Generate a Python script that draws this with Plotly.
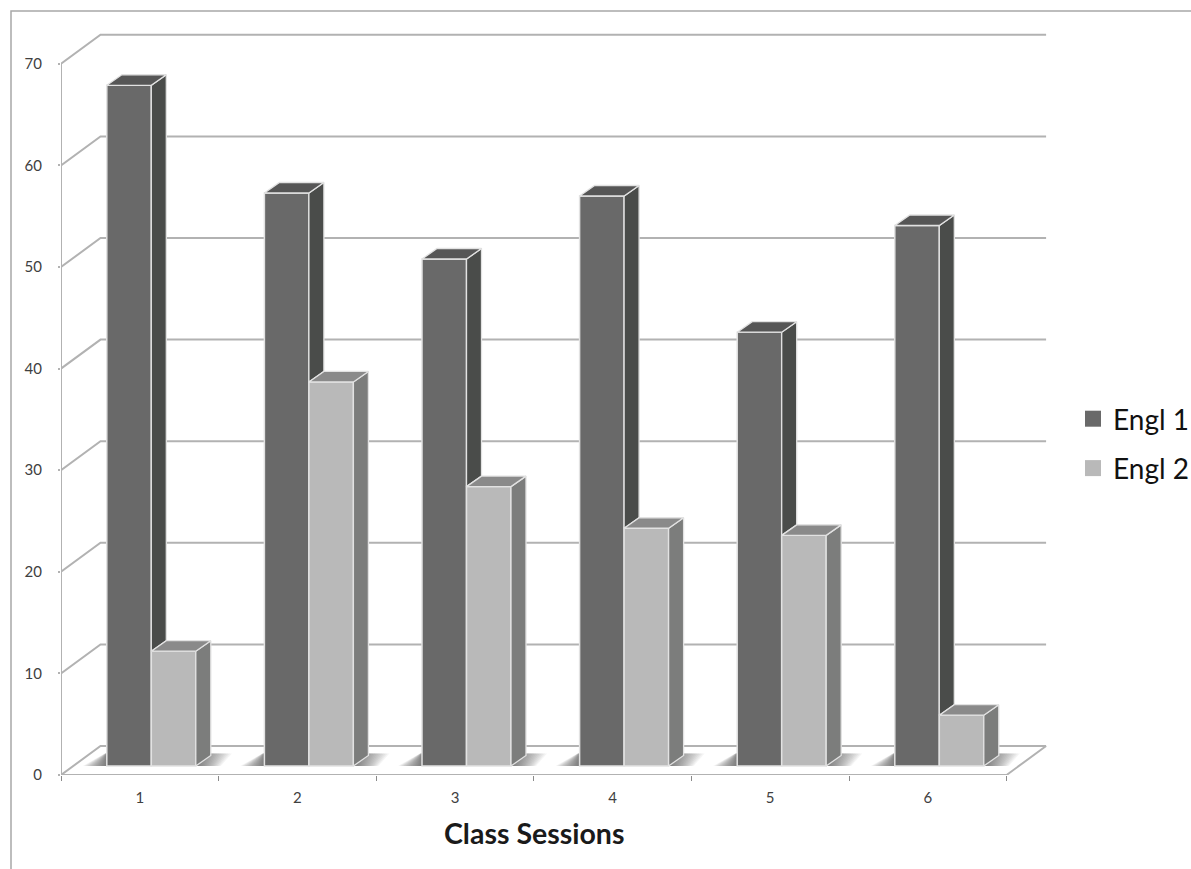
import plotly.graph_objects as go

sessions = [1, 2, 3, 4, 5, 6]
engl1 = [67.0, 56.4, 49.9, 56.1, 42.7, 53.2]
engl2 = [11.3, 37.8, 27.5, 23.4, 22.7, 5.0]
y_ticks = [0, 10, 20, 30, 40, 50, 60, 70]

PXX = 157.6      # pixels per category
PXY = 10.16      # pixels per value unit
L, T, B_PX, R_PX = 61, 30, 775, 1047
X0 = 0.5
XMAX = X0 + (R_PX - L) / PXX
YMAX = (B_PX - T) / PXY

wall_dx = 39.5 / PXX
wall_dy = 29 / PXY
bar_w = 44.5 / PXX
off1 = -33 / PXX
off2 = off1 + bar_w
bar_dx = 15 / PXX
bar_dy = 10.5 / PXY
base = 9 / PXY

GRID = "#b2b2b2"
EDGE = "#e2e2e2"
C1, C1S, C1T = "#696969", "#4a4c4a", "#565656"
C2, C2S, C2T = "#b9b9b9", "#7c7d7c", "#8a8a8a"
TXT = "#404040"

fig = go.Figure()

# ---- bars (front faces)
for name, vals, off, col in [("Engl 1", engl1, off1, C1), ("Engl 2", engl2, off2, C2)]:
    fig.add_trace(go.Bar(x=sessions, y=vals, base=base, width=bar_w, offset=off,
                         marker=dict(color=col, line=dict(color=EDGE, width=1.5)),
                         name=name, legendgroup=name, showlegend=False, hoverinfo="skip"))


def poly_trace(xs, ys, col):
    return go.Scatter(x=xs, y=ys, mode="lines", fill="toself", fillcolor=col,
                      line=dict(color=EDGE, width=1.3), showlegend=False,
                      hoverinfo="skip")


def faces(vals, low, off):
    sx, sy, tx, ty = [], [], [], []
    for s, v, lo in zip(sessions, vals, low):
        xl = s + off
        xr = xl + bar_w
        top = base + v
        bot = base + lo
        sx += [xr, xr + bar_dx, xr + bar_dx, xr, xr, None]
        sy += [top, top + bar_dy, bot + bar_dy, bot, top, None]
        tx += [xl, xl + bar_dx, xr + bar_dx, xr, xl, None]
        ty += [top, top + bar_dy, top + bar_dy, top, top, None]
    return sx, sy, tx, ty


# Engl 1 side stops where the Engl 2 bar in front of it begins
sx, sy, tx, ty = faces(engl1, engl2, off1)
fig.add_trace(poly_trace(sx, sy, C1S))
fig.add_trace(poly_trace(tx, ty, C1T))
sx, sy, tx, ty = faces(engl2, [0] * 6, off2)
fig.add_trace(poly_trace(sx, sy, C2S))
fig.add_trace(poly_trace(tx, ty, C2T))

# ---- axis lines and floor edges
x_end = X0 + len(sessions)
fig.add_trace(go.Scatter(
    x=[X0, X0, None, X0, x_end, x_end + wall_dx],
    y=[y_ticks[-1], 0, None, 0, 0, wall_dy],
    mode="lines", line=dict(color=GRID, width=2), cliponaxis=False,
    showlegend=False, hoverinfo="skip"))

# ---- legend entries
for name, col in [("Engl 1", C1), ("Engl 2", C2)]:
    fig.add_trace(go.Scatter(x=[None], y=[None], mode="markers", name=name, legendgroup=name,
                             marker=dict(symbol="square", size=16, color=col), hoverinfo="skip"))

# ---- back wall grid + floor shadows (beneath the bars)
shapes = []
for v in y_ticks:
    shapes.append(dict(type="path", layer="below", xref="x", yref="y",
                       path=f"M{X0},{v} L{X0 + wall_dx},{v + wall_dy} L{x_end + wall_dx},{v + wall_dy}",
                       line=dict(color=GRID, width=2)))
for s in sessions:
    left = s + off1
    right = left + 2 * bar_w
    y0 = base
    y1 = base + 12.5 / PXY
    for i in range(20):
        t = 1.0 - i * 0.05
        ll = left - 24 / PXX * t
        ul = left - 2 / PXX * t
        ur = right + 36 / PXX * t
        lr = right + 25 / PXX * t
        shapes.append(dict(type="path", layer="below", xref="x", yref="y",
                           path=f"M{ll},{y0} L{ul},{y1} L{ur},{y1} L{lr},{y0} Z",
                           fillcolor="rgba(70,70,70,0.055)", line=dict(width=0)))
# outer chart frame
px = lambda p: (p - L) / (R_PX - L)
py = lambda p: (B_PX - p) / (B_PX - T)
shapes.append(dict(type="path", layer="below", xref="paper", yref="paper",
                   path=f"M{px(11)},{py(869)} L{px(11)},{py(11)} L{px(1191)},{py(11)}",
                   line=dict(color="#a8a8a8", width=1.5)))

annotations = [dict(text="<b>Class Sessions</b>", xref="x", yref="paper",
                    x=3.5, y=py(833), xanchor="center", yanchor="middle", showarrow=False,
                    font=dict(family="Lato", size=28.5, color="#1a1a1a"))]

fig.update_layout(
    width=1191, height=869, margin=dict(l=L, r=1191 - R_PX, t=T, b=869 - B_PX),
    paper_bgcolor="white", plot_bgcolor="white", barmode="overlay",
    font=dict(family="Lato", size=15, color=TXT),
    shapes=shapes, annotations=annotations,
    xaxis=dict(range=[X0, XMAX], tickmode="array", tickvals=sessions,
               ticktext=[str(s) for s in sessions], ticks="", showgrid=False, zeroline=False,
               showline=False, ticklabelstandoff=12, tickfont=dict(family="Lato", size=15, color=TXT),
               minor=dict(tickmode="array", tickvals=[X0 + i for i in range(7)], ticks="outside",
                          ticklen=5, tickwidth=1, tickcolor="#8a8a8a", showgrid=False)),
    yaxis=dict(range=[0, YMAX], tickmode="array", tickvals=y_ticks, ticks="outside", ticklen=2,
               tickwidth=1.5, tickcolor=GRID, showgrid=False, zeroline=False, showline=False,
               ticklabelstandoff=13, tickfont=dict(family="Lato", size=15, color=TXT)),
    legend=dict(xref="container", yref="container", x=1073 / 1191, y=1 - 394 / 869,
                xanchor="left", yanchor="top", bgcolor="rgba(0,0,0,0)",
                tracegroupgap=10, font=dict(family="Lato", size=28, color="#111111"),
                itemclick=False, itemdoubleclick=False),
    showlegend=True,
)

fig.write_html("out.html", config={"displayModeBar": False},
               post_script="document.body.style.margin='0';")
